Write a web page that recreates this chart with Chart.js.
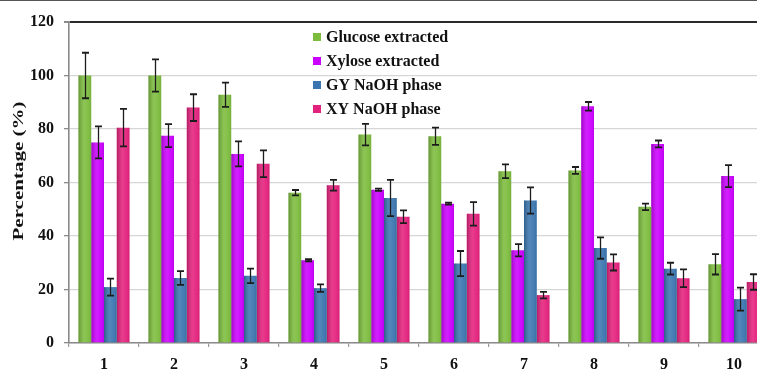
<!DOCTYPE html>
<html>
<head>
<meta charset="utf-8">
<script src="https://cdn.jsdelivr.net/npm/chart.js@4"></script>
<style>
  html, body { margin: 0; padding: 0; background: #fff; overflow: hidden; }
  #wrap { width: 757px; height: 370px; overflow: hidden; }
  canvas { display: block; }
</style>
</head>
<body>
<div id="wrap"><canvas id="c" width="780" height="370"></canvas></div>
<script>
// Experiment numbers (x axis)
const categories = ['1', '2', '3', '4', '5', '6', '7', '8', '9', '10'];

// Percentages per series, with standard deviations
const glucoseExtracted = [100, 100, 92.8, 56.2, 77.9, 77.3, 64.2, 64.5, 50.9, 29.4];
const glucoseErr       = [8.5, 6, 4.5, 1, 4, 3.2, 2.6, 1.3, 1.2, 3.8];
const xyloseExtracted  = [75, 77.5, 70.7, 30.9, 57.3, 52.1, 34.7, 88.5, 74.4, 62.4];
const xyloseErr        = [6, 4.3, 4.7, 0.4, 0.4, 0.4, 2.3, 1.6, 1.3, 4.1];
const gyNaOH           = [20.9, 24.3, 25.1, 20.5, 54.2, 29.7, 53.3, 35.5, 27.8, 16.4];
const gyErr            = [3.2, 2.6, 2.7, 1.4, 6.8, 4.7, 4.9, 4, 2.2, 4.3];
const xyNaOH           = [80.5, 88, 67, 59, 47.2, 48.3, 17.9, 30.1, 24.2, 22.8];
const xyErr            = [7, 5, 5, 2, 2.4, 4.4, 1.2, 3, 3.3, 2.9];

const yTicks = { min: 0, max: 120, step: 20 };

const serif = "'Liberation Serif', 'DejaVu Serif', serif";

const datasets = [
  { label: 'Glucose extracted', data: glucoseExtracted, errors: glucoseErr, backgroundColor: '#7dbd3e' },
  { label: 'Xylose extracted',  data: xyloseExtracted,  errors: xyloseErr,  backgroundColor: '#cc00ff' },
  { label: 'GY NaOH phase',     data: gyNaOH,           errors: gyErr,      backgroundColor: '#3b76b0' },
  { label: 'XY NaOH phase',     data: xyNaOH,           errors: xyErr,      backgroundColor: '#e4217d' }
];

// Soft cylindrical shading on every bar
const barShade = {
  id: 'barShade',
  afterDatasetsDraw(chart) {
    const ctx = chart.ctx;
    chart.data.datasets.forEach((ds, i) => {
      chart.getDatasetMeta(i).data.forEach(el => {
        const l = el.x - el.width / 2, r = el.x + el.width / 2;
        const g = ctx.createLinearGradient(l, 0, r, 0);
        g.addColorStop(0, 'rgba(0,0,0,0.22)');
        g.addColorStop(0.45, 'rgba(255,255,255,0.12)');
        g.addColorStop(0.75, 'rgba(255,255,255,0.05)');
        g.addColorStop(1, 'rgba(0,0,0,0.08)');
        ctx.save();
        ctx.fillStyle = g;
        ctx.fillRect(l, el.y, el.width, el.base - el.y);
        ctx.restore();
      });
    });
  }
};

// Error bars (value ± deviation) through the y scale
const errorBars = {
  id: 'errorBars',
  afterDatasetsDraw(chart) {
    const ctx = chart.ctx, y = chart.scales.y;
    ctx.save();
    ctx.strokeStyle = '#1c1c1c';
    chart.data.datasets.forEach((ds, i) => {
      chart.getDatasetMeta(i).data.forEach((el, j) => {
        const v = ds.data[j], e = ds.errors[j];
        const top = y.getPixelForValue(v + e), bot = y.getPixelForValue(v - e);
        const x = Math.round(el.x) + 0.5;
        ctx.lineWidth = 1.3;
        ctx.beginPath();
        ctx.moveTo(x, top); ctx.lineTo(x, bot);
        ctx.stroke();
        ctx.lineWidth = 1.8;
        ctx.beginPath();
        ctx.moveTo(x - 3.5, top); ctx.lineTo(x + 3.5, top);
        ctx.moveTo(x - 3.5, bot); ctx.lineTo(x + 3.5, bot);
        ctx.stroke();
      });
    });
    ctx.restore();
  }
};

// Legend inside the plot, y-axis title and the top rule of the figure
const decorations = {
  id: 'decorations',
  afterDraw(chart) {
    const ctx = chart.ctx;
    ctx.save();
    // top rule
    ctx.strokeStyle = '#555';
    ctx.lineWidth = 1;
    ctx.beginPath();
    ctx.moveTo(0, 0.5); ctx.lineTo(chart.width, 0.5);
    ctx.stroke();

    // legend
    ctx.font = 'bold 16px ' + serif;
    ctx.textBaseline = 'middle';
    ctx.textAlign = 'left';
    chart.data.datasets.forEach((ds, i) => {
      const yy = 37 + i * 24;
      ctx.fillStyle = ds.backgroundColor;
      ctx.fillRect(313, yy - 4, 8, 8);
      ctx.fillStyle = '#111';
      ctx.fillText(ds.label, 326, yy + 1);
    });

    // y axis title, drawn wide like the original lettering
    ctx.translate(19, 171);
    ctx.rotate(-Math.PI / 2);
    ctx.scale(1.5, 1);
    ctx.font = 'bold 14px ' + serif;
    ctx.textAlign = 'center';
    ctx.textBaseline = 'middle';
    ctx.fillStyle = '#111';
    ctx.fillText('Percentage (%)', 0, 0);
    ctx.restore();
  }
};

new Chart(document.getElementById('c'), {
  type: 'bar',
  data: { labels: categories, datasets },
  options: {
    responsive: false,
    animation: false,
    devicePixelRatio: 1,
    layout: { padding: { top: 22, right: 11, left: 0, bottom: 0 } },
    plugins: { legend: { display: false }, tooltip: { enabled: false } },
    datasets: { bar: { categoryPercentage: 0.73, barPercentage: 1.0, borderWidth: 0 } },
    scales: {
      x: {
        grid: { offset: true, drawOnChartArea: false, tickLength: 4, tickColor: '#9a9a9a', lineWidth: 1.2 },
        border: { color: '#8a8a8a', width: 1.6 },
        ticks: { font: { family: serif, size: 16, weight: 'bold' }, color: '#111', padding: 8, maxRotation: 0 },
        afterFit(s) { s.height = 27; }
      },
      y: {
        min: yTicks.min, max: yTicks.max,
        grid: {
          color: c => c.tick && c.tick.value === yTicks.max ? '#2a2a2a' : '#d6d6d6',
          lineWidth: c => c.tick && c.tick.value === yTicks.max ? 2 : 1.3,
          tickLength: 5, tickColor: '#8a8a8a'
        },
        border: { color: '#8a8a8a', width: 1.6 },
        ticks: { stepSize: yTicks.step, font: { family: serif, size: 16, weight: 'bold' }, color: '#111', padding: 10 },
        afterFit(s) { s.width = 69; }
      }
    }
  },
  plugins: [barShade, errorBars, decorations]
});
</script>
</body>
</html>
